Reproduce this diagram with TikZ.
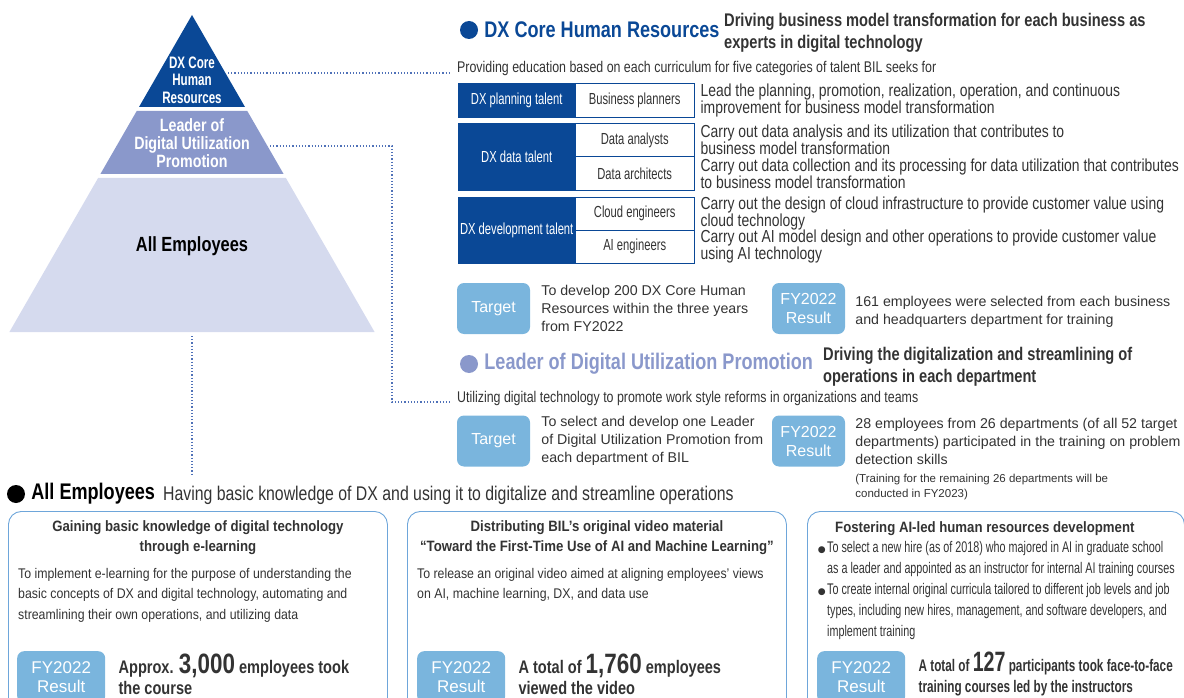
\documentclass[tikz,border=0pt]{standalone}
\usepackage{fontspec}
\setmainfont{Liberation Sans}
\newfontfamily\cnd{Liberation Sans}[FakeStretch=0.7]
\newfontfamily\cndb{Liberation Sans}[FakeStretch=0.8]
\newfontfamily\semi{Liberation Sans}[FakeStretch=0.88]
\newfontfamily\symf{DejaVu Sans}
\usetikzlibrary{positioning}
\definecolor{dxblue}{HTML}{0A4896}
\definecolor{ldpblue}{HTML}{8A98CB}
\definecolor{allpale}{HTML}{D5DAEE}
\definecolor{tagblue}{HTML}{7AB5DD}
\definecolor{panelline}{HTML}{6EA6DA}
\definecolor{dotblue}{HTML}{4F71B8}
\definecolor{ink}{HTML}{333333}
\newcommand{\blt}{{\symf\fontsize{9}{9}\selectfont ●\,}}
\tikzset{
  layer/.style={align=center, inner sep=0pt, text=white,
                font=\cndb\bfseries\fontsize{17.8}{18}\selectfont},
  dot/.style={circle, minimum size=18pt, inner sep=0pt},
  hdr/.style={anchor=west, inner sep=0pt, font=\cndb\bfseries\fontsize{22.6}{24}\selectfont},
  aim/.style={anchor=west, align=left, inner sep=0pt, text=ink,
              font=\cndb\bfseries\fontsize{18.3}{21.5}\selectfont},
  lead/.style={anchor=west, inner sep=0pt, text=ink,
               font=\cndb\fontsize{15.5}{17}\selectfont},
  talent/.style={anchor=north west, draw=dxblue, fill=dxblue, text=white,
                 minimum width=117pt, inner sep=0pt, font=\cnd\fontsize{16}{16}\selectfont},
  role/.style={anchor=north west, draw=dxblue, fill=white, text=ink,
               minimum width=119pt, inner sep=0pt, font=\cnd\fontsize{16}{16}\selectfont},
  desc/.style={anchor=west, align=left, inner sep=0pt, text=ink,
               font=\cndb\fontsize{17.4}{17}\selectfont},
  tag/.style={fill=tagblue, text=white, rounded corners=7pt, minimum width=73pt,
              minimum height=51pt, align=center, inner sep=0pt,
              font=\fontsize{16}{19}\selectfont},
  tagtext/.style={anchor=west, align=left, inner sep=0pt, text=ink,
                  font=\fontsize{14.2}{18}\selectfont},
  smallnote/.style={anchor=north west, align=left, inner sep=0pt, text=ink,
                    font=\fontsize{11.5}{15}\selectfont},
  dotline/.style={draw=dotblue, line width=1.3pt, dash pattern=on 1.2pt off 2pt},
  panel/.style={anchor=north west, draw=panelline, rounded corners=13pt,
                line width=0.9pt, minimum width=379pt, minimum height=215pt},
  ptitle/.style={align=center, inner sep=0pt, text=ink,
                 font=\semi\bfseries\fontsize{15}{20}\selectfont},
  pbody/.style={anchor=north west, align=left, inner sep=0pt, text=ink,
                font=\semi\fontsize{14}{20.5}\selectfont},
  ptag/.style={tag, anchor=north west, minimum width=88pt, minimum height=52pt,
               font=\fontsize{17}{19}\selectfont},
  pres/.style={anchor=west, align=left, inner sep=0pt, text=ink, yshift=3pt,
               font=\cndb\bfseries\fontsize{18.2}{21}\selectfont},
}
\newcommand{\bignum}[1]{{\fontsize{28}{21}\selectfont #1}}

\begin{document}
\begin{tikzpicture}[x=1pt, y=-1pt]
\useasboundingbox (0,0) rectangle (1184,698);

% pyramid
\fill[dxblue] (192,15) -- (245,107) -- (139,107) -- cycle;
\fill[ldpblue] (136.7,111) -- (247.3,111) -- (283.6,174) -- (100.4,174) -- cycle;
\fill[allpale] (98.1,178) -- (285.9,178) -- (374.6,332) -- (9.4,332) -- cycle;
\node[layer, font=\cnd\bfseries\fontsize{16.6}{17.5}\selectfont] (core) at (192,80) {DX Core\\Human\\Resources};
\node[layer] (ldp) at (192,143) {Leader of\\Digital Utilization\\Promotion};
\node[layer, text=black, font=\cndb\bfseries\fontsize{20.5}{22}\selectfont] (allemp) at (192,246) {All Employees};

\coordinate (coreR) at (228,73);
\coordinate (ldpR) at (270,146);
\coordinate (ldpTurn) at (392,146);
\coordinate (allBase) at (192,336);
\coordinate (allTail) at (192,476);

% DX core human resources
\node[dot, fill=dxblue] (b1) at (469,30) {};
\node[hdr, text=dxblue, right=6pt of b1] (dxhdr) {DX Core Human Resources};
\node[aim] (dxaim) at (724,33) {Driving business model transformation for each business as\\experts in digital technology};
\node[lead] (lead1) at (457,68) {Providing education based on each curriculum for five categories of talent BIL seeks for};

\node[talent, minimum height=34pt] (plan) at (458,83) {DX planning talent};
\node[role, minimum height=34pt] (bizp) at (575,83) {Business planners};
\node[talent, minimum height=67pt] (data) at (458,123) {DX data talent};
\node[role, minimum height=33.5pt] (dana) at (575,123) {Data analysts};
\node[role, minimum height=33.5pt] (darc) at (575,156.5) {Data architects};
\node[talent, minimum height=66pt] (devt) at (458,197) {DX development talent};
\node[role, minimum height=33pt] (cloud) at (575,197) {Cloud engineers};
\node[role, minimum height=33pt] (aieng) at (575,230) {AI engineers};

\node[desc, right=6pt of bizp] {Lead the planning, promotion, realization, operation, and continuous\\improvement for business model transformation};
\node[desc, right=6pt of dana] {Carry out data analysis and its utilization that contributes to\\business model transformation};
\node[desc, right=6pt of darc] {Carry out data collection and its processing for data utilization that contributes\\to business model transformation};
\node[desc, right=6pt of cloud] {Carry out the design of cloud infrastructure to provide customer value using\\cloud technology};
\node[desc, right=6pt of aieng] {Carry out AI model design and other operations to provide customer value\\using AI technology};

\node[tag] (tgt1) at (493.5,308.5) {Target};
\node[tagtext, right=11pt of tgt1] (tgt1txt) {To develop 200 DX Core Human\\Resources within the three years\\from FY2022};
\node[tag] (res1) at (808.5,308.5) {FY2022\\Result};
\node[tagtext, right=10pt of res1, yshift=-3pt] (res1txt) {161 employees were selected from each business\\and headquarters department for training};

% leader of digital utilization promotion
\node[dot, fill=ldpblue] (b2) at (469,364) {};
\node[hdr, text=ldpblue, right=6pt of b2] (ldphdr) {Leader of Digital Utilization Promotion};
\node[aim] (ldpaim) at (823,367) {Driving the digitalization and streamlining of\\operations in each department};
\node[lead] (lead2) at (457,398) {Utilizing digital technology to promote work style reforms in organizations and teams};

\node[tag] (tgt2) at (493.5,441) {Target};
\node[tagtext, right=11pt of tgt2] (tgt2txt) {To select and develop one Leader\\of Digital Utilization Promotion from\\each department of BIL};
\node[tag] (res2) at (808.5,441) {FY2022\\Result};
\node[tagtext, right=10pt of res2] (res2txt) {28 employees from 26 departments (of all 52 target\\departments) participated in the training on problem\\detection skills};
\node[smallnote] (res2note) at ([yshift=-10pt]res2txt.south west) {(Training for the remaining 26 departments will be\\conducted in FY2023)};

% all employees
\node[dot, fill=black] (b3) at (16,494) {};
\node[hdr, text=black, right=6pt of b3] (allhdr) {All Employees};
\node[aim, font=\cndb\fontsize{19.8}{21}\selectfont] (allaim) at (163,495) {Having basic knowledge of DX and using it to digitalize and streamline operations};

\node[panel] (pan1) at (8,511) {};
\node[ptitle, below=9pt of pan1.north] (pan1t) {Gaining basic knowledge of digital technology\\through e-learning};
\node[pbody] (pan1b) at (18,568) {To implement e-learning for the purpose of understanding the\\basic concepts of DX and digital technology, automating and\\streamlining their own operations, and utilizing data};
\node[ptag] (pan1tag) at (17,651) {FY2022\\Result};
\node[pres, right=13pt of pan1tag] {Approx. \bignum{3,000} employees took\\the course};

\node[panel] (pan2) at (407,511) {};
\node[ptitle, below=9pt of pan2.north] (pan2t) {Distributing BIL’s original video material\\“Toward the First-Time Use of AI and Machine Learning”};
\node[pbody] (pan2b) at (417,568) {To release an original video aimed at aligning employees’ views\\on AI, machine learning, DX, and data use};
\node[ptag] (pan2tag) at (417,651) {FY2022\\Result};
\node[pres, right=13pt of pan2tag] {A total of \bignum{1,760} employees\\viewed the video};

\node[panel, minimum width=377pt] (pan3) at (807,511) {};
\node[ptitle, anchor=west] (pan3t) at (835,529) {Fostering AI-led human resources development};
\node[pbody, font=\cnd\fontsize{15.4}{21}\selectfont] (pan3b) at (827,541) {\llap{\blt}To select a new hire (as of 2018) who majored in AI in graduate school\\as a leader and appointed as an instructor for internal AI training courses\\\llap{\blt}To create internal original curricula tailored to different job levels and job\\types, including new hires, management, and software developers, and\\implement training};
\node[ptag] (pan3tag) at (817,651) {FY2022\\Result};
\node[pres, right=13pt of pan3tag, font=\cnd\bfseries\fontsize{16.8}{21}\selectfont] {A total of \bignum{127} participants took face-to-face\\training courses led by the instructors};

% dotted links
\draw[dotline] (coreR) -- ([xshift=-6pt]lead1.west |- coreR);
\draw[dotline] (ldpR) -- (ldpTurn) |- ([xshift=-6pt, yshift=-4pt]lead2.west);
\draw[dotline] (allBase) -- (allTail);

\end{tikzpicture}
\end{document}
